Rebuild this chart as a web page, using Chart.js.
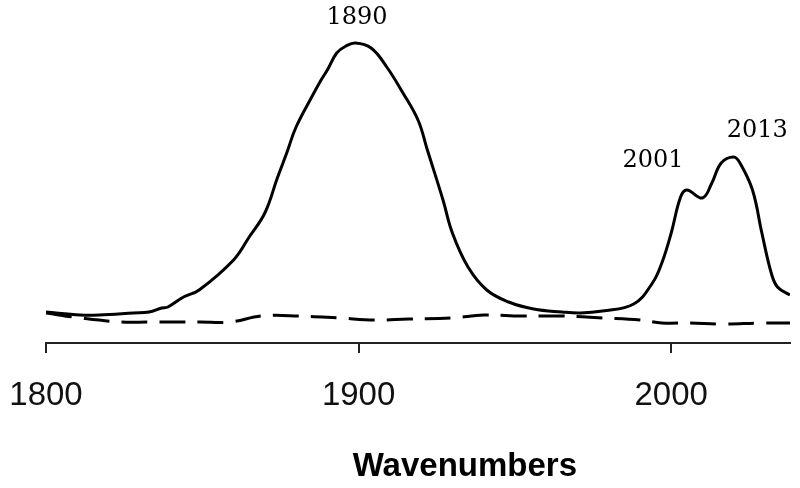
<!DOCTYPE html>
<html>
<head>
<meta charset="utf-8">
<script src="https://cdn.jsdelivr.net/npm/chart.js@4"></script>
<style>
    html, body { margin: 0; padding: 0; background: #fff; }
    #wrap { width: 800px; height: 488px; }
</style>
</head>
<body>
<div id="wrap"><canvas id="irChart" width="800" height="488"></canvas></div>
<script>
// wavenumbers (cm-1) and intensity (arbitrary units)
const solidX = [1800, 1811, 1817, 1828, 1833, 1837, 1839, 1844, 1849, 1860, 1865, 1870, 1874, 1877, 1880, 1885, 1888, 1890, 1893, 1896, 1899, 1904, 1909, 1914, 1919, 1922, 1927, 1930, 1935, 1941, 1948, 1956, 1965, 1971, 1978, 1988, 1994, 1997, 2000, 2003, 2005, 2010, 2013, 2016, 2020, 2022, 2026, 2029, 2032, 2034, 2038];
const solidY = [31, 28, 28, 30, 31, 35, 36, 46, 53, 83, 106, 130, 165, 190, 216, 246, 263, 273, 290, 297, 300, 295, 276, 251, 223, 193, 143, 110, 76, 53, 41, 34, 31, 30, 32, 39, 60, 80, 110, 146, 153, 145, 160, 180, 186, 180, 153, 110, 70, 56, 48];

const dashX = [1800, 1811, 1824, 1833, 1849, 1859, 1869, 1881, 1894, 1905, 1916, 1930, 1940, 1952, 1965, 1978, 1990, 1997, 2006, 2016, 2029, 2038];
const dashY = [30, 25, 21, 21, 21, 21, 27, 27, 25, 23, 24, 25, 28, 27, 27, 25, 23, 20, 20, 19, 20, 20];

const xTicks = [1800, 1900, 2000];
const peakLabels = ['1890', '2001', '2013'];
const axisTitle = 'Wavenumbers';

const toPoints = (xs, ys) => xs.map((x, i) => ({ x: x, y: ys[i] }));

// where the peak labels sit, in data units
const peakLabelPos = [
    { x: 1899.5, y: 325 },
    { x: 1994.2, y: 182 },
    { x: 2027.5, y: 212 }
];

const labelPlugin = {
    id: 'irLabels',
    afterDraw(chart) {
        const ctx = chart.ctx;
        const xs = chart.scales.x;
        const ys = chart.scales.y;
        ctx.save();
        ctx.fillStyle = '#000';
        ctx.textAlign = 'center';
        ctx.textBaseline = 'middle';
        ctx.font = '24px "DejaVu Serif"';
        peakLabels.forEach((txt, i) => {
            ctx.fillText(txt, xs.getPixelForValue(peakLabelPos[i].x), ys.getPixelForValue(peakLabelPos[i].y));
        });
        ctx.font = 'bold 33px "Liberation Sans"';
        const area = chart.chartArea;
        ctx.fillText(axisTitle, area.left + (area.right - area.left) * 0.563, 467);
        ctx.restore();
    }
};

new Chart(document.getElementById('irChart'), {
    type: 'line',
    data: {
        datasets: [{
            data: toPoints(solidX, solidY),
            borderColor: '#000',
            borderWidth: 3,
            pointRadius: 0,
            tension: 0.4,
            fill: false
        }, {
            data: toPoints(dashX, dashY),
            borderColor: '#000',
            borderWidth: 3,
            borderDash: [26, 12],
            pointRadius: 0,
            tension: 0.4,
            fill: false
        }]
    },
    options: {
        responsive: false,
        animation: false,
        events: [],
        layout: { padding: { top: 0, right: 10, left: 0, bottom: 0 } },
        plugins: {
            legend: { display: false },
            tooltip: { enabled: false }
        },
        scales: {
            x: {
                type: 'linear',
                min: 1800,
                max: 2038,
                afterBuildTicks: s => { s.ticks = xTicks.map(v => ({ value: v })); },
                afterFit: s => { s.height = 145; s.paddingLeft = 0; s.paddingRight = 0; },
                border: { display: true, color: '#222', width: 2 },
                grid: { drawOnChartArea: false, drawTicks: true, tickLength: 10, color: '#222', lineWidth: 2 },
                ticks: {
                    color: '#111',
                    padding: 23,
                    maxRotation: 0,
                    callback: v => String(v),
                    font: { family: 'Liberation Sans', size: 33 }
                }
            },
            y: {
                min: 0,
                max: 343,
                afterFit: s => { s.width = 46; },
                border: { display: false },
                grid: { display: false },
                ticks: { display: false }
            }
        }
    },
    plugins: [labelPlugin]
});
</script>
</body>
</html>
